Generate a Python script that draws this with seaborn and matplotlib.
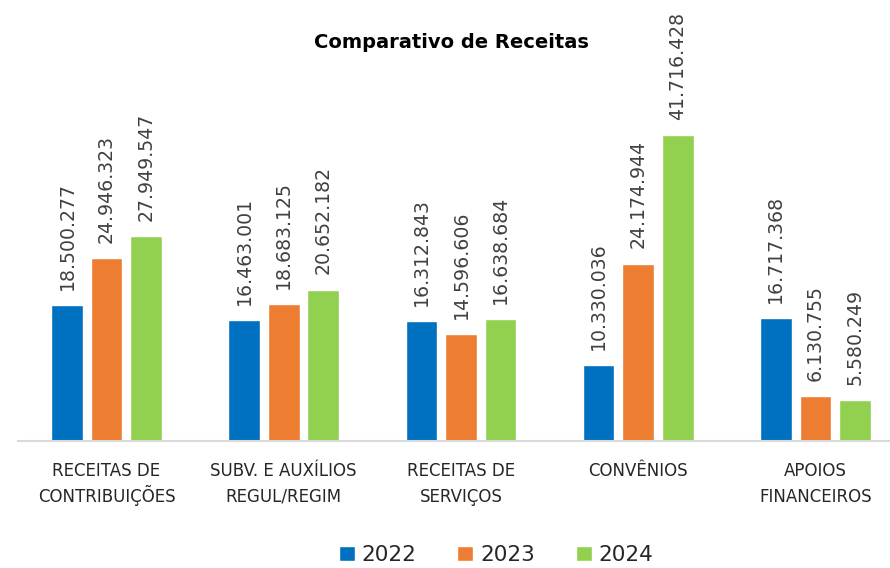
import matplotlib
matplotlib.use("Agg")
import matplotlib.pyplot as plt
from matplotlib.patches import Patch
import seaborn as sns
import pandas as pd

categories = ["RECEITAS DE\nCONTRIBUIÇÕES", "SUBV. E AUXÍLIOS\nREGUL/REGIM",
              "RECEITAS DE\nSERVIÇOS", "CONVÊNIOS", "APOIOS\nFINANCEIROS"]
years = ["2022", "2023", "2024"]
v2022 = [18500277, 16463001, 16312843, 10330036, 16717368]
v2023 = [24946323, 18683125, 14596606, 24174944, 6130755]
v2024 = [27949547, 20652182, 16638684, 41716428, 5580249]
colors = ["#0070C0", "#ED7D31", "#92D050"]

rows = []
for y, vals in zip(years, [v2022, v2023, v2024]):
    for c, v in zip(categories, vals):
        rows.append({"Categoria": c, "Ano": y, "Valor": v})
df = pd.DataFrame(rows)

sns.set_theme(style="white")
plt.rcParams['font.family'] = ['DejaVu Sans']

fig = plt.figure(figsize=(8.9, 5.68), dpi=100)
W, H = 890, 568
left_px, right_px = 17.9, 904.0
base_px, top_px = 441.0, 0.0
ax = fig.add_axes([left_px / W, (H - base_px) / H, (right_px - left_px) / W, (base_px - top_px) / H])

sns.barplot(data=df, x="Categoria", y="Valor", hue="Ano", palette=colors,
            width=0.67, gap=0.2, ax=ax, legend=False, saturation=1)

px_per_unit = (441 - 135) / 41716428
ax.set_ylim(0, (base_px - top_px) / px_per_unit)
ax.set_xlim(-0.5, 4.5)

def fmt(v):
    return f"{v:,}".replace(",", ".")

for cont, vals in zip(ax.containers, [v2022, v2023, v2024]):
    ax.bar_label(cont, labels=[fmt(v) for v in vals], rotation=90, padding=11,
                 fontsize=13.6, color="#404040")

for s in ["top", "left", "right"]:
    ax.spines[s].set_visible(False)
ax.spines["bottom"].set_color("#D9D9D9")
ax.spines["bottom"].set_linewidth(1.5)
ax.set_yticks([])
ax.set_xlabel("")
ax.set_ylabel("")
ax.set_xticklabels([])
ax.tick_params(axis="x", length=0)

# category labels, one line at a time for even line spacing
for i, cat in enumerate(categories):
    for j, line in enumerate(cat.split("\n")):
        ax.annotate(line, xy=(i, 0), xycoords=("data", "axes fraction"),
                    xytext=(0, -(25.2 + 18.5 * j)), textcoords="offset points",
                    ha="center", va="baseline", fontsize=12, color="#262626",
                    annotation_clip=False)

fig.text(451 / W, 1 - 42 / H, "Comparativo de Receitas", ha="center", va="center",
         fontsize=14, fontweight="bold", color="black")

handles = [Patch(facecolor=c, label=y) for c, y in zip(colors, years)]
fig.legend(handles=handles, loc="center", bbox_to_anchor=(496 / W, 1 - 555 / H),
           ncol=3, frameon=False, fontsize=15.5, handlelength=0.75, handleheight=0.75,
           handletextpad=0.3, columnspacing=1.9)

fig.savefig("out.png", dpi=100)
